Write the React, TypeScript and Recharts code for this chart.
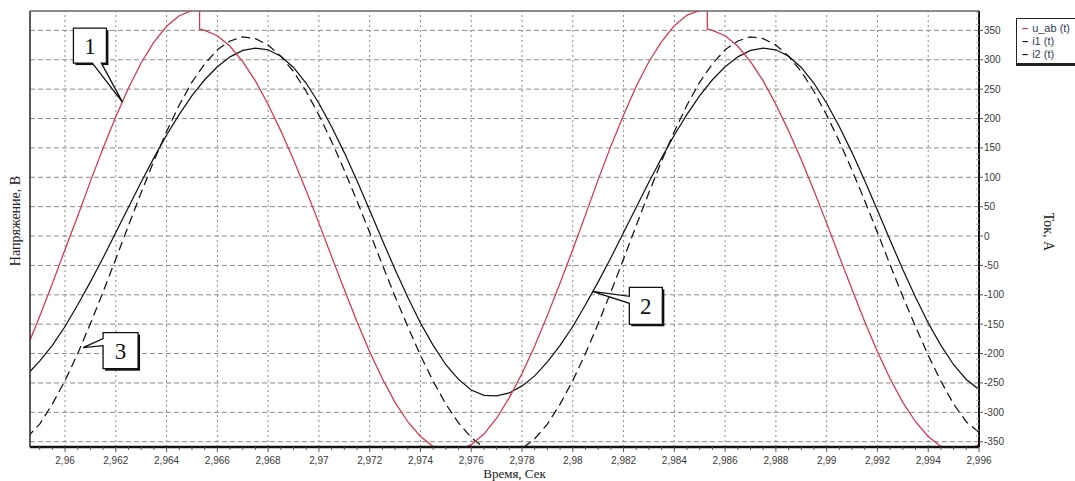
import React from 'react';
import {
  LineChart,
  Line,
  XAxis,
  YAxis,
  ReferenceLine,
  ReferenceDot,
  Legend
} from 'recharts';

// time, s
const time = [
  2.9585, 2.959, 2.9595, 2.96, 2.9605, 2.961, 2.9615, 2.962, 2.9625, 2.963,
  2.9635, 2.964, 2.9645, 2.965, 2.9655, 2.966, 2.9665, 2.967, 2.9675, 2.968,
  2.9685, 2.969, 2.9695, 2.97, 2.9705, 2.971, 2.9715, 2.972, 2.9725, 2.973,
  2.9735, 2.974, 2.9745, 2.975, 2.9755, 2.976, 2.9765, 2.977, 2.9775, 2.978,
  2.9785, 2.979, 2.9795, 2.98, 2.9805, 2.981, 2.9815, 2.982, 2.9825, 2.983,
  2.9835, 2.984, 2.9845, 2.985, 2.9855, 2.986, 2.9865, 2.987, 2.9875, 2.988,
  2.9885, 2.989, 2.9895, 2.99, 2.9905, 2.991, 2.9915, 2.992, 2.9925, 2.993,
  2.9935, 2.994, 2.9945, 2.995, 2.9955, 2.996
];

// i1 (t), A  (solid)
const i1 = [
  -236, -213, -186, -154, -117, -78, -37, 6, 49, 92,
  133, 172, 207, 239, 266, 288, 305, 316, 320, 317,
  306, 287, 260, 226, 186, 142, 94, 44, -7, -57,
  -104, -148, -186, -219, -244, -262, -271, -272, -267, -255,
  -238, -214, -186, -154, -117, -78, -37, 6, 49, 92,
  133, 172, 207, 239, 266, 288, 305, 316, 320, 317,
  306, 287, 260, 226, 186, 142, 94, 44, -7, -57,
  -104, -148, -186, -219, -244, -261
];

// i2 (t), A  (dashed)
const i2 = [
  -343, -320, -286, -246, -200, -149, -95, -39, 18, 74,
  128, 178, 223, 262, 293, 317, 332, 339, 336, 325,
  306, 280, 246, 206, 161, 112, 60, 6, -49, -103,
  -154, -203, -247, -286, -318, -343, -360, -370, -370, -362,
  -345, -320, -286, -246, -200, -149, -95, -39, 18, 74,
  128, 178, 223, 262, 293, 317, 332, 339, 336, 325,
  306, 280, 246, 206, 161, 112, 60, 6, -49, -103,
  -154, -203, -247, -286, -316, -334
];

// u_ab (t), V  (has a notch at the top, so its own time list)
const uTime = [
  2.9585, 2.959, 2.9595, 2.96, 2.9605, 2.961, 2.9615, 2.962, 2.9625, 2.963,
  2.9635, 2.964, 2.9645, 2.965, 2.9653, 2.9653, 2.9655, 2.966, 2.9665, 2.967,
  2.9675, 2.968, 2.9685, 2.969, 2.9695, 2.97, 2.9705, 2.971, 2.9715, 2.972,
  2.9725, 2.973, 2.9735, 2.974, 2.9745, 2.975, 2.9755, 2.976, 2.9765, 2.977,
  2.9775, 2.978, 2.9785, 2.979, 2.9795, 2.98, 2.9805, 2.981, 2.9815, 2.982,
  2.9825, 2.983, 2.9835, 2.984, 2.9845, 2.985, 2.9853, 2.9853, 2.9855, 2.986,
  2.9865, 2.987, 2.9875, 2.988, 2.9885, 2.989, 2.9895, 2.99, 2.9905, 2.991,
  2.9915, 2.992, 2.9925, 2.993, 2.9935, 2.994, 2.9945, 2.995, 2.9955, 2.996
];
const uAb = [
  -190, -137, -81, -23, 34, 93, 150, 203, 252, 295,
  330, 357, 375, 384, 386, 352, 350, 341, 323, 297,
  264, 224, 179, 130, 77, 22, -35, -91, -146, -197,
  -243, -283, -316, -341, -358, -366, -365, -355, -337, -310,
  -275, -234, -187, -135, -80, -23, 36, 96, 153, 206,
  255, 297, 331, 358, 376, 384, 386, 352, 350, 341,
  323, 297, 264, 224, 179, 130, 77, 22, -35, -91,
  -146, -197, -243, -283, -316, -341, -358, -366, -365, -355
];

const xMajor = [
  2.96, 2.962, 2.964, 2.966, 2.968, 2.97, 2.972, 2.974, 2.976, 2.978,
  2.98, 2.982, 2.984, 2.986, 2.988, 2.99, 2.992, 2.994, 2.996
];
const xLabels = [
  '2,96', '2,962', '2,964', '2,966', '2,968', '2,97', '2,972', '2,974', '2,976', '2,978',
  '2,98', '2,982', '2,984', '2,986', '2,988', '2,99', '2,992', '2,994', '2,996'
];
const yMajor = [-350, -300, -250, -200, -150, -100, -50, 0, 50, 100, 150, 200, 250, 300, 350];

const seriesNames = ['u_ab (t)', 'i1 (t)', 'i2 (t)'];
const seriesColors = ['#d3364b', '#141414', '#141414'];

// callouts: number, point on the curve it marks
const calloutNames = ['1', '2', '3'];
const calloutT = [2.96226, 2.98077, 2.96071];
const calloutV = [228, -94, -190];

const X_DOMAIN = [2.95862, 2.996];
const Y_DOMAIN = [-359, 383];

const xMinor = Array.from({ length: 75 }, (_, k) => +(2.959 + k * 0.0005).toFixed(4));
const yMinor = Array.from({ length: 74 }, (_, k) => -350 + k * 10);

const uData = uTime.map((t, k) => ({ t, v: uAb[k] }));
const i1Data = time.map((t, k) => ({ t, v: i1[k] }));
const i2Data = time.map((t, k) => ({ t, v: i2[k] }));

const SANS = '"Liberation Sans", Arial, sans-serif';
const SERIF = '"Liberation Serif", "Times New Roman", serif';

// box offsets from the pointer tip: [left, top, right, bottom], pointer side and its base
const calloutBoxes: any[] = [
  { box: [-49, -74, -16, -39], side: 'bottom', base: [-30, -21] },
  { box: [37, -4, 70, 33], side: 'left', base: [5, 12] },
  { box: [20, -15, 55, 21], side: 'left', base: [-9, -2] }
];

const Callout = ({ cx, cy, idx }: any) => {
  if (cx == null || cy == null) return null;
  const c = calloutBoxes[idx];
  const L = cx + c.box[0];
  const T = cy + c.box[1];
  const R = cx + c.box[2];
  const B = cy + c.box[3];
  let d = '';
  if (c.side === 'bottom') {
    d = `M${L},${T} H${R} V${B} H${cx + c.base[1]} L${cx},${cy} L${cx + c.base[0]},${B} H${L} Z`;
  } else {
    d = `M${L},${T} H${R} V${B} H${L} V${cy + c.base[1]} L${cx},${cy} L${L},${cy + c.base[0]} Z`;
  }
  return (
    <g>
      <rect x={L + 2} y={T + 2} width={R - L} height={B - T} fill="#111" />
      <path d={d} fill="#fff" stroke="#111" strokeWidth={1.3} strokeLinejoin="miter" />
      <text
        x={(L + R) / 2}
        y={(T + B) / 2 + 8}
        textAnchor="middle"
        fontFamily={SERIF}
        fontSize={23}
        fill="#111"
      >
        {calloutNames[idx]}
      </text>
    </g>
  );
};

const BottomTick = ({ x, y, payload }: any) => {
  const idx = xMajor.findIndex((m) => Math.abs(m - payload.value) < 1e-7);
  const major = idx >= 0;
  return (
    <g>
      <line x1={x} x2={x} y1={y} y2={y + (major ? 5 : 3)} stroke="#555" strokeWidth={1} />
      {major && (
        <text x={x} y={y + 17} textAnchor="middle" fontFamily={SANS} fontSize={10} fill="#3a3a3a">
          {xLabels[idx]}
        </text>
      )}
    </g>
  );
};

const RightTick = ({ x, y, payload }: any) => {
  const v = payload.value;
  if (v % 50 !== 0) {
    return <line x1={x - 3} x2={x} y1={y} y2={y} stroke="#aaa" strokeWidth={1} />;
  }
  return (
    <g>
      <line x1={x} x2={x + 4} y1={y} y2={y} stroke="#555" strokeWidth={1} />
      <text x={x + 5} y={y} dy="0.35em" fontFamily={SANS} fontSize={10} fill="#3a3a3a">
        {v}
      </text>
    </g>
  );
};

const LeftLabel = ({ viewBox }: any) => {
  const x = viewBox.x + 15;
  const y = viewBox.y + viewBox.height / 2 - 8;
  return (
    <text
      x={x}
      y={y}
      transform={`rotate(-90, ${x}, ${y})`}
      textAnchor="middle"
      dominantBaseline="central"
      fontFamily={SERIF}
      fontSize={14}
      fill="#222"
    >
      Напряжение, В
    </text>
  );
};

const RightLabel = ({ viewBox }: any) => {
  const x = viewBox.x + 69;
  const y = viewBox.y + viewBox.height / 2 + 3;
  return (
    <text
      x={x}
      y={y}
      transform={`rotate(90, ${x}, ${y})`}
      textAnchor="middle"
      dominantBaseline="central"
      fontFamily={SERIF}
      fontSize={14}
      fill="#222"
    >
      Ток, А
    </text>
  );
};

const BottomLabel = ({ viewBox }: any) => (
  <text
    x={viewBox.x + viewBox.width / 2 + 10}
    y={viewBox.y + 31}
    textAnchor="middle"
    fontFamily={SERIF}
    fontSize={13}
    fill="#222"
  >
    Время, Сек
  </text>
);

const LegendBox = () => (
  <div
    style={{
      border: '1px solid #222',
      borderBottom: '3px solid #222',
      background: '#fff',
      padding: '3px 5px 2px 5px',
      fontFamily: SANS,
      fontSize: 11,
      lineHeight: '13px',
      width: 80,
      whiteSpace: 'nowrap'
    }}
  >
    {seriesNames.map((n, k) => (
      <div key={n} style={{ color: '#333a58' }}>
        <span style={{ color: seriesColors[k], fontWeight: 700, marginRight: 4 }}>–</span>
        {n}
      </div>
    ))}
  </div>
);

export default function App() {
  return (
    <div
      style={{
        position: 'absolute',
        left: 0,
        top: 0,
        width: 1075,
        height: 481,
        overflow: 'hidden',
        background: '#fff'
      }}
    >
      <LineChart width={1075} height={481} margin={{ top: 11, right: 56, bottom: 4, left: 0 }}>
        <XAxis
          dataKey="t"
          type="number"
          domain={X_DOMAIN}
          allowDataOverflow
          ticks={xMinor}
          interval={0}
          tick={<BottomTick />}
          tickLine={false}
          tickSize={0}
          tickMargin={0}
          height={30}
          axisLine={{ stroke: '#111', strokeWidth: 2.5 }}
          label={<BottomLabel />}
        />
        <YAxis
          yAxisId="left"
          orientation="left"
          type="number"
          domain={Y_DOMAIN}
          allowDataOverflow
          width={30}
          tick={false}
          tickLine={false}
          axisLine={{ stroke: '#333', strokeWidth: 1.6 }}
          label={<LeftLabel />}
        />
        <YAxis
          yAxisId="right"
          orientation="right"
          type="number"
          domain={Y_DOMAIN}
          allowDataOverflow
          width={40}
          ticks={yMinor}
          interval={0}
          tick={<RightTick />}
          tickLine={false}
          tickSize={0}
          tickMargin={0}
          axisLine={{ stroke: '#111', strokeWidth: 2 }}
          label={<RightLabel />}
        />

        {yMajor.map((v) => (
          <ReferenceLine
            key={`h${v}`}
            y={v}
            yAxisId="right"
            stroke="#8a8a8a"
            strokeDasharray="5 3"
          />
        ))}
        {xMajor.slice(0, -1).map((t) => (
          <ReferenceLine
            key={`v${t}`}
            x={t}
            yAxisId="right"
            stroke="#8a8a8a"
            strokeDasharray="2 3"
          />
        ))}
        <ReferenceLine y={Y_DOMAIN[1]} yAxisId="right" stroke="#666" strokeWidth={1.5} />

        <Line
          data={i1Data}
          dataKey="v"
          yAxisId="right"
          type="linear"
          stroke={seriesColors[1]}
          strokeWidth={1.25}
          dot={false}
          isAnimationActive={false}
          name={seriesNames[1]}
        />
        <Line
          data={i2Data}
          dataKey="v"
          yAxisId="right"
          type="linear"
          stroke={seriesColors[2]}
          strokeWidth={1.25}
          strokeDasharray="9 5"
          dot={false}
          isAnimationActive={false}
          name={seriesNames[2]}
        />
        <Line
          data={uData}
          dataKey="v"
          yAxisId="right"
          type="linear"
          stroke={seriesColors[0]}
          strokeWidth={1.25}
          dot={false}
          isAnimationActive={false}
          name={seriesNames[0]}
        />

        {calloutNames.map((n, k) => (
          <ReferenceDot
            key={`c${n}`}
            x={calloutT[k]}
            y={calloutV[k]}
            yAxisId="right"
            r={0}
            shape={(p: any) => <Callout {...p} idx={k} />}
          />
        ))}

        <Legend
          layout="vertical"
          align="center"
          verticalAlign="middle"
          content={<LegendBox />}
          wrapperStyle={{ left: 1016, top: 18, width: 'auto' }}
        />
      </LineChart>
    </div>
  );
}
